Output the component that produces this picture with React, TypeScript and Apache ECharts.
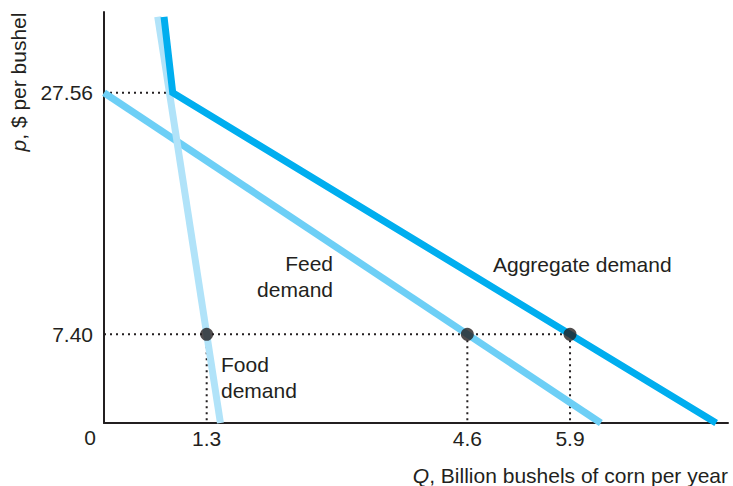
import React, { useEffect, useRef } from "react";
import * as echarts from "echarts";

// Demand curves (Q in billion bushels, p in $ per bushel)
const foodQ = [0.68, 1.474];
const foodP = [33.9, 0];
const feedQ = [0, 6.29];
const feedP = [27.56, 0];
const aggregateQ = [0.76, 0.87, 7.75];
const aggregateP = [33.9, 27.56, 0];

// Marked equilibrium points at p = 7.40
const pointQ = [1.3, 4.6, 5.9];
const pointP = [7.4, 7.4, 7.4];

// Kink of aggregate demand
const kinkQ = 0.87;
const kinkP = 27.56;

// Tick labels
const priceTicks = [7.4, 27.56];
const priceTickLabels = ["7.40", "27.56"];
const quantityTicks = [1.3, 4.6, 5.9];
const quantityTickLabels = ["1.3", "4.6", "5.9"];

const INK = "#231f20";
const FONT = "'Liberation Sans', Arial, Helvetica, sans-serif";
const FS = 21;

function zip(a: number[], b: number[]) {
  return a.map((v, i) => [v, b[i]]);
}

export default function App() {
  const ref = useRef<HTMLDivElement>(null);

  useEffect(() => {
    document.body.style.margin = "0";
    if (!ref.current) return;
    const chart = echarts.init(ref.current, undefined, { renderer: "svg" });

    const dotted = {
      color: INK,
      width: 2,
      type: [2, 4] as number[],
    };

    const dottedSeries: any[] = [];
    dottedSeries.push({
      type: "line",
      data: [[0, kinkP], [kinkQ, kinkP]],
      showSymbol: false,
      lineStyle: dotted,
      z: 1,
    });
    dottedSeries.push({
      type: "line",
      data: [[0, pointP[0]], [pointQ[pointQ.length - 1], pointP[0]]],
      showSymbol: false,
      lineStyle: dotted,
      z: 1,
    });
    pointQ.forEach((q, i) => {
      dottedSeries.push({
        type: "line",
        data: [[q, pointP[i]], [q, 0]],
        showSymbol: false,
        lineStyle: dotted,
        z: 1,
      });
    });

    const labelFmt = (ticks: number[], labels: string[]) => (v: number) => {
      const i = ticks.findIndex((t) => Math.abs(t - v) < 1e-6);
      return i >= 0 ? labels[i] : "";
    };

    chart.setOption({
      animation: false,
      grid: {
        left: 104,
        right: 5,
        top: 12,
        bottom: 63,
        containLabel: false,
        outerBoundsMode: "none",
      },
      xAxis: {
        type: "value",
        min: 0,
        max: 7.9,
        axisLine: { show: true, onZero: false, lineStyle: { color: INK, width: 2 } },
        axisTick: { show: false },
        splitLine: { show: false },
        axisLabel: {
          customValues: quantityTicks,
          formatter: labelFmt(quantityTicks, quantityTickLabels),
          color: INK,
          fontSize: FS,
          fontFamily: FONT,
          margin: 5,
        },
      },
      yAxis: {
        type: "value",
        min: 0,
        max: 34.3,
        axisLine: { show: true, onZero: false, lineStyle: { color: INK, width: 2 } },
        axisTick: { show: false },
        splitLine: { show: false },
        axisLabel: {
          customValues: priceTicks,
          formatter: labelFmt(priceTicks, priceTickLabels),
          color: INK,
          fontSize: FS,
          fontFamily: FONT,
          margin: 11,
        },
      },
      series: [
        ...dottedSeries,
        {
          name: "Feed demand",
          type: "line",
          data: zip(feedQ, feedP),
          showSymbol: false,
          lineStyle: { color: "#6dcff6", width: 7, cap: "butt" },
          z: 2,
        },
        {
          name: "Food demand",
          type: "line",
          data: zip(foodQ, foodP),
          showSymbol: false,
          lineStyle: { color: "#b1e3f9", width: 7, cap: "butt" },
          z: 3,
        },
        {
          name: "Aggregate demand",
          type: "line",
          data: zip(aggregateQ, aggregateP),
          showSymbol: false,
          lineStyle: { color: "#00aeef", width: 7, cap: "butt", join: "miter" },
          z: 4,
        },
        {
          type: "scatter",
          data: zip(pointQ, pointP),
          symbolSize: 13,
          itemStyle: { color: INK },
          z: 5,
        },
      ],
      graphic: [
        {
          type: "text",
          x: 90,
          y: 437,
          style: {
            text: "0",
            fill: INK,
            font: `${FS}px ${FONT}`,
            align: "center",
            verticalAlign: "middle",
          },
        },
        {
          type: "text",
          x: 18,
          y: 82,
          rotation: Math.PI / 2,
          style: {
            text: "{i|p}{n|, $ per bushel}",
            fill: INK,
            font: `${FS}px ${FONT}`,
            align: "center",
            verticalAlign: "middle",
            rich: {
              i: { fontStyle: "italic", fontSize: FS, fontFamily: FONT, fill: INK },
              n: { fontSize: FS, fontFamily: FONT, fill: INK },
            },
          },
        },
        {
          type: "text",
          x: 728,
          y: 475,
          style: {
            text: "{i|Q}{n|, Billion bushels of corn per year}",
            fill: INK,
            font: `${FS}px ${FONT}`,
            align: "right",
            verticalAlign: "middle",
            rich: {
              i: { fontStyle: "italic", fontSize: FS, fontFamily: FONT, fill: INK },
              n: { fontSize: FS, fontFamily: FONT, fill: INK },
            },
          },
        },
        {
          type: "text",
          x: 333,
          y: 276,
          style: {
            text: "Feed\ndemand",
            fill: INK,
            font: `${FS}px ${FONT}`,
            align: "right",
            verticalAlign: "middle",
            lineHeight: 26,
          },
        },
        {
          type: "text",
          x: 493,
          y: 264,
          style: {
            text: "Aggregate demand",
            fill: INK,
            font: `${FS}px ${FONT}`,
            align: "left",
            verticalAlign: "middle",
          },
        },
        {
          type: "text",
          x: 221,
          y: 377,
          style: {
            text: "Food\ndemand",
            fill: INK,
            font: `${FS}px ${FONT}`,
            align: "left",
            verticalAlign: "middle",
            lineHeight: 26,
          },
        },
      ],
    });

    return () => chart.dispose();
  }, []);

  return <div ref={ref} style={{ width: 733, height: 486 }} />;
}
